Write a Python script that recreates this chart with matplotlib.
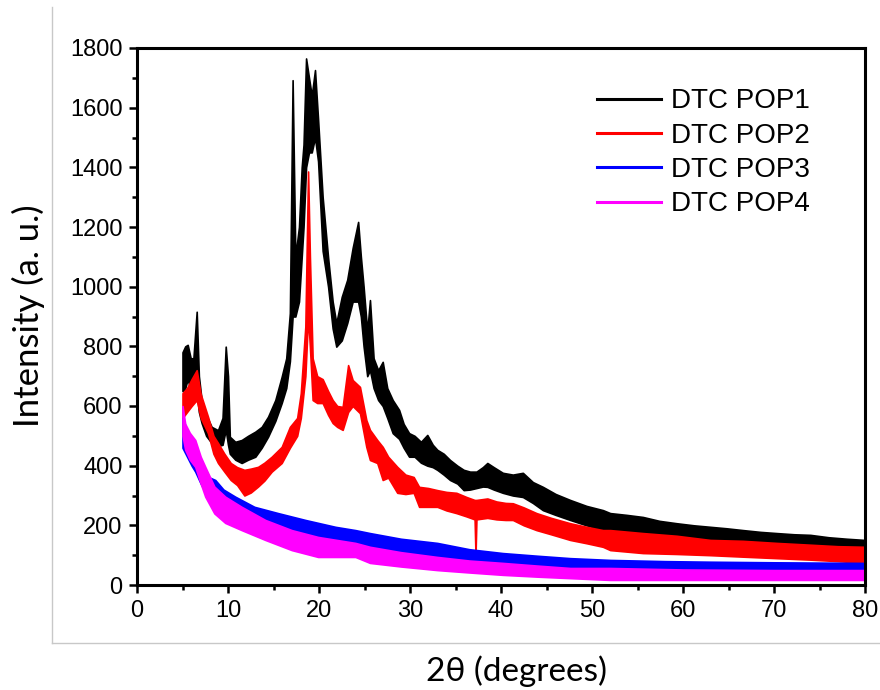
import matplotlib
matplotlib.use("Agg")
import matplotlib.pyplot as plt
from matplotlib.lines import Line2D
from matplotlib.ticker import MultipleLocator

# ---------------- data ----------------
labels = ["DTC POP1", "DTC POP2", "DTC POP3", "DTC POP4"]
colors = ["#000000", "#ff0000", "#0000ff", "#ff00ff"]

# DTC POP1: x, upper edge of the noisy trace, lower edge
pop1_x = [5.0, 5.3, 5.57, 5.9, 6.2, 6.56, 6.8, 7.1, 7.6, 8.2, 8.9, 9.4, 9.75, 10.0,
          10.2, 10.8, 11.5, 12.2, 13.0, 13.7, 14.4, 15.2, 15.9, 16.4, 16.8, 17.1,
          17.4, 17.8, 18.1, 18.3, 18.58, 18.9, 19.2, 19.56, 19.9, 20.4, 21.0, 21.5,
          21.9, 22.5, 23.1, 23.7, 24.3, 24.6, 24.9, 25.3, 25.6, 26.0, 26.5, 27.0,
          27.5, 28.1, 28.8, 29.3, 29.9, 30.5, 31.2, 31.9, 32.5, 33.0, 33.7, 34.4,
          35.2, 35.9, 36.6, 37.3, 38.0, 38.5, 39.2, 40.2, 41.3, 42.4, 43.5, 44.6,
          46.0, 47.6, 49.4, 51.2, 52.0, 53.8, 55.6, 57.4, 59.3, 61.2, 63.0, 64.8,
          66.6, 68.5, 70.3, 72.2, 74.0, 76.0, 78.0, 80.0]
pop1_hi = [780, 800, 805, 760, 760, 916, 700, 620, 570, 530, 519, 560, 799, 700,
           497, 480, 486, 500, 514, 530, 564, 620, 698, 760, 911, 1692,
           1100, 1200, 1400, 1476, 1765, 1700, 1640, 1726, 1560, 1300, 1097, 950,
           878, 966, 1023, 1130, 1217, 1100, 1000, 850, 955, 760, 720, 748,
           660, 620, 587, 540, 509, 500, 480, 503, 470, 453, 440, 419,
           400, 386, 380, 380, 395, 409, 395, 376, 370, 376, 345, 329,
           305, 285, 265, 251, 241, 235, 228, 215, 207, 200, 195, 190,
           184, 178, 174, 170, 168, 160, 155, 151]
pop1_lo = [650, 660, 690, 650, 640, 650, 580, 543, 500, 476, 466, 470, 520, 470,
           440, 420, 409, 420, 430, 460, 497, 550, 610, 660, 750, 900,
           900, 950, 1100, 1200, 1400, 1450, 1450, 1500, 1420, 1120, 1000, 860,
           799, 820, 878, 950, 950, 900, 800, 700, 720, 660, 620, 600,
           560, 509, 490, 460, 430, 430, 410, 400, 395, 386, 370, 352,
           340, 318, 320, 325, 330, 329, 320, 309, 300, 295, 275, 251,
           235, 218, 200, 184, 174, 175, 174, 160, 151, 145, 141, 135,
           128, 126, 124, 120, 117, 115, 113, 111]

# DTC POP2
pop2_x = [5.0, 5.5, 6.0, 6.56, 7.0, 7.8, 8.4, 8.9, 9.6, 10.3, 11.0, 11.8, 12.5,
          13.3, 14.0, 14.8, 15.9, 16.8, 17.6, 18.0, 18.5, 18.8, 19.0, 19.3, 19.8,
          20.4, 21.0, 21.5, 22.0, 22.6, 23.2, 23.7, 24.5, 25.2, 25.6, 26.4, 27.0,
          27.6, 28.6, 29.5, 30.4, 31.0, 32.0, 33.0, 34.0, 35.1, 36.2, 37.1, 37.2,
          37.3, 38.5, 39.5, 40.5, 41.3, 42.5, 43.9, 45.5, 47.6, 49.4, 51.2, 52.0,
          55.6, 59.3, 63.0, 66.6, 70.3, 74.0, 77.0, 80.0]
pop2_hi = [643, 660, 690, 720, 640, 564, 500, 476, 440, 409, 395, 386, 390,
           396, 410, 430, 463, 530, 560, 643, 866, 1386, 1100, 760, 700,
           690, 650, 620, 600, 597, 737, 687, 664, 553, 520, 486, 463,
           430, 396, 370, 362, 329, 325, 318, 312, 309, 295, 285, 285,
           285, 290, 280, 275, 274, 260, 241, 225, 207, 195, 184, 184,
           174, 165, 151, 148, 141, 135, 130, 128]
pop2_lo = [560, 580, 600, 620, 560, 509, 440, 409, 380, 352, 335, 300, 310,
           330, 350, 380, 409, 460, 500, 560, 700, 900, 800, 620, 610,
           610, 570, 543, 530, 520, 580, 600, 576, 463, 419, 409, 352,
           360, 309, 305, 309, 262, 262, 262, 250, 241, 230, 220, 100,
           220, 225, 220, 218, 218, 200, 184, 170, 151, 140, 128, 117,
           107, 104, 100, 95, 90, 85, 80, 74]

# DTC POP3
pop3_x = [5.0, 5.5, 6.0, 6.4, 7.0, 7.5, 8.0, 8.6, 9.5, 10.8, 12.9, 15.5, 18.5,
          21.8, 24.0, 25.6, 29.0, 33.0, 36.5, 40.2, 44.0, 47.6, 52.0, 58.0, 63.0,
          70.0, 80.0]
pop3_hi = [560, 520, 480, 450, 400, 370, 360, 352, 320, 296, 262, 241, 218,
           195, 184, 174, 155, 141, 120, 107, 98, 90, 84, 80, 78,
           76, 74]
pop3_lo = [460, 430, 400, 380, 340, 310, 300, 309, 270, 251, 218, 195, 174,
           151, 141, 128, 110, 94, 85, 74, 65, 55, 50, 48, 45,
           43, 40]

# DTC POP4
pop4_x = [5.0, 5.3, 5.8, 6.4, 7.0, 7.5, 8.5, 9.7, 11.5, 14.1, 17.0, 19.9, 24.0,
          25.6, 29.0, 33.0, 36.5, 40.2, 44.0, 47.6, 52.0, 60.0, 70.0, 80.0]
pop4_hi = [600, 540, 510, 486, 430, 396, 330, 296, 262, 218, 184, 161, 141,
           128, 110, 94, 82, 74, 65, 57, 57, 52, 50, 50]
pop4_lo = [500, 453, 420, 396, 340, 296, 240, 208, 184, 151, 117, 94, 94,
           74, 62, 50, 42, 34, 28, 23, 17, 17, 17, 17]

x_ticks = [0, 10, 20, 30, 40, 50, 60, 70, 80]
y_ticks = [0, 200, 400, 600, 800, 1000, 1200, 1400, 1600, 1800]

# ---------------- figure ----------------
fig = plt.figure(figsize=(8.8, 6.9), dpi=100)
W, H = 880, 690
ax = fig.add_axes([137 / W, 1 - 585 / H, (865 - 137) / W, (585 - 48) / H])

series = [(pop1_x, pop1_hi, pop1_lo), (pop2_x, pop2_hi, pop2_lo),
          (pop3_x, pop3_hi, pop3_lo), (pop4_x, pop4_hi, pop4_lo)]
for (xs, hi, lo), c in zip(series, colors):
    ax.fill_between(xs, lo, hi, color=c, linewidth=1.2, edgecolor=c)

ax.set_xlim(0, 80)
ax.set_ylim(0, 1800)
ax.set_xticks(x_ticks)
ax.set_yticks(y_ticks)
ax.xaxis.set_minor_locator(MultipleLocator(5))
ax.yaxis.set_minor_locator(MultipleLocator(100))
ax.tick_params(which="both", direction="out", top=False, right=False, width=1.8,
               labelsize=17, pad=5)
ax.tick_params(which="major", length=5.5)
ax.tick_params(which="minor", length=3.5)
for lab in ax.get_xticklabels() + ax.get_yticklabels():
    lab.set_family("Liberation Sans")
for s in ax.spines.values():
    s.set_linewidth(2.2)

handles = [Line2D([], [], color=c, lw=2.2) for c in colors]
leg = ax.legend(handles, labels, loc="upper left", bbox_to_anchor=(0.632, 0.925),
                frameon=False, borderaxespad=0, borderpad=0, handlelength=2.3,
                handletextpad=0.35, labelspacing=0.3,
                prop={"family": "Liberation Sans", "size": 20})

# outer light-grey frame of the embedded picture
fig.add_artist(Line2D([52 / W, 52 / W], [1 - 643 / H, 1 - 7 / H], color="#c8c8c8", lw=1))
fig.add_artist(Line2D([52 / W, 1.0], [1 - 643 / H, 1 - 643 / H], color="#c8c8c8", lw=1))

fig.text(516 / W, 1 - 671 / H, "2θ (degrees)", ha="center", va="center",
         family=["Lato", "DejaVu Sans"], fontsize=24)
fig.text(28 / W, 1 - 316 / H, "Intensity (a. u.)", ha="center", va="center",
         rotation=90, family=["Lato", "DejaVu Sans"], fontsize=25)

fig.savefig("out.png", dpi=100)
